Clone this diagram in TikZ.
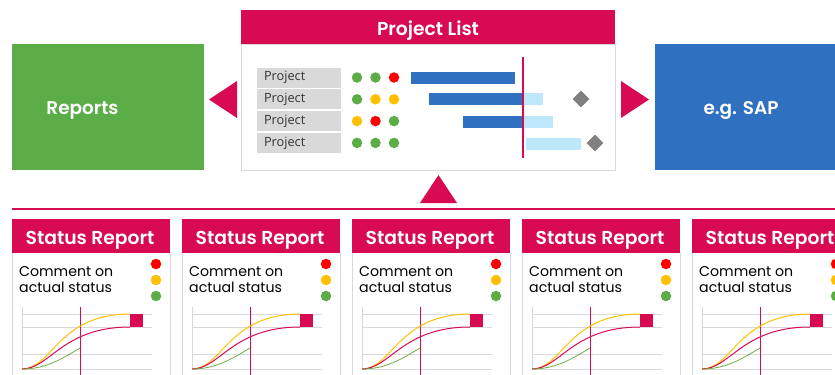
\documentclass[tikz,border=0pt]{standalone}
\usepackage{fontspec}
\setmainfont{Poppins}[BoldFont=* SemiBold]
\newfontfamily\lblfont{Open Sans}
\usetikzlibrary{shapes.geometric}
\definecolor{crim}{HTML}{D70A52}
\definecolor{repgreen}{HTML}{5BAD47}
\definecolor{dgreen}{HTML}{5BAD47}
\definecolor{sapblue}{HTML}{3070C0}
\definecolor{lblue}{HTML}{BDE7FB}
\definecolor{dyel}{HTML}{FFC000}
\definecolor{dred}{HTML}{FF0000}
\definecolor{diagray}{HTML}{808080}
\definecolor{boxgray}{HTML}{D9D9D9}
\definecolor{gridgray}{HTML}{D9D9D9}
\definecolor{txtgray}{HTML}{333333}
\definecolor{cgreen}{HTML}{70AD47}
\tikzset{
  hdr/.style={fill=crim, text=white, inner sep=0pt},
  hdrtxt/.style={text=white, inner sep=0pt, anchor=base, font=\bfseries\fontsize{18.8}{20}\selectfont},
  frame/.style={draw=gridgray, line width=1bp, inner sep=0pt},
  lbl/.style={fill=boxgray, text=txtgray, inner xsep=7bp, inner ysep=0pt, text width=70bp, align=left, minimum height=20bp, font=\lblfont\fontsize{12.8}{14}\selectfont},
  dot/.style={circle, inner sep=0pt, minimum size=10.5bp},
  bigbox/.style={inner sep=0pt, minimum width=192bp, minimum height=126bp, anchor=north west},
  bigtxt/.style={text=white, inner sep=0pt, anchor=base, font=\bfseries\fontsize{18.5}{20}\selectfont},
  arrowtri/.style={fill=crim},
  bar/.style={inner sep=0pt, minimum height=12bp, anchor=west},
  dia/.style={diamond, fill=diagray, inner sep=0pt, minimum width=17bp, minimum height=17bp},
  grid line/.style={draw=gridgray, line width=1bp},
  cmt/.style={text=black, anchor=base west, inner sep=0pt, font=\fontsize{14.2}{16}\selectfont},
}
\begin{document}
\begin{tikzpicture}[x=1bp,y=-1bp]
\useasboundingbox (0,0) rectangle (835,374);
\clip (0,0) rectangle (835,374);

% ---------- Project list ----------
\node[frame, minimum width=374bp, minimum height=126bp, anchor=north west] (plb) at (241,44) {};
\node[hdr, minimum width=374bp, minimum height=34bp, anchor=north west] (plh) at (241,10) {};
\node[hdrtxt] (plt) at (428,35) {Project List};

\foreach \i/\y in {1/77.5,2/99.3,3/121.1,4/142.9}{
  \node[lbl] (p\i) at (299,\y) {Project};
}
% status dots
\foreach \i/\y/\ca/\cb/\cc in {1/77.5/dgreen/dgreen/dred, 2/99.3/dgreen/dyel/dyel, 3/121.1/dyel/dred/dgreen, 4/142.9/dgreen/dgreen/dgreen}{
  \node[dot, fill=\ca] (d\i a) at (357,\y) {};
  \node[dot, fill=\cb] (d\i b) at (375.5,\y) {};
  \node[dot, fill=\cc] (d\i c) at (394,\y) {};
}
% bars
\node[bar, fill=sapblue, minimum width=104bp] (b1) at (411,78) {};
\node[bar, fill=lblue, minimum width=20bp] (b2l) at (523,99) {};
\node[bar, fill=sapblue, minimum width=94bp] (b2) at (429,99) {};
\node[bar, fill=lblue, minimum width=30bp] (b3l) at (523,122) {};
\node[bar, fill=sapblue, minimum width=60bp] (b3) at (463,122) {};
\node[bar, fill=lblue, minimum width=55bp] (b4l) at (526,144) {};
\coordinate (nowtop) at (522.7,57);
\coordinate (nowbot) at (522.7,158);
\draw[crim, line width=2bp] (nowtop) -- (nowbot);
\node[dia] (m2) at (581,99) {};
\node[dia] (m4) at (595,143) {};

% ---------- Reports / SAP ----------
\node[bigbox, fill=repgreen] (rep) at (12,44) {};
\node[bigtxt] (rept) at (82.5,114) {Reports};
\node[bigbox, fill=sapblue, minimum width=200bp] (sap) at (655,44) {};
\node[bigtxt] (sapt) at (741,114) {e.g. SAP};

% triangles
\fill[arrowtri] (209,99.5) -- (237,81) -- (237,118) -- cycle;
\fill[arrowtri] (649,99.5) -- (621,81) -- (621,118) -- cycle;
\fill[arrowtri] (438.5,175) -- (420,203) -- (457,203) -- cycle;

% separator line
\coordinate (sepl) at (12,209);
\coordinate (sepr) at (840,209);
\draw[crim, line width=2bp] (sepl) -- (sepr);

% ---------- Status report cards ----------
\foreach \k in {0,...,4}{
  \pgfmathsetmacro{\xo}{12+170*\k}
  \begin{scope}[shift={(\xo,0)}]
    \draw[frame] (0,253) -- (0,380) (158,253) -- (158,380);
    \node[hdr, minimum width=158bp, minimum height=34bp, anchor=north west] (sh\k) at (0,219) {};
    \node[hdrtxt] (st\k) at (78,244) {Status Report};
    \node[cmt] (ca\k) at (7,276) {Comment on};
    \node[cmt] (cb\k) at (7,292) {actual status};
    \node[dot, fill=dred] (r\k) at (144,264) {};
    \node[dot, fill=dyel] (y\k) at (144,280) {};
    \node[dot, fill=dgreen] (g\k) at (144,296) {};
    % chart
    \draw[grid line] (10,314) -- (140,314) (10,327) -- (140,327) (10,354) -- (140,354) (10,369.5) -- (140,369.5);
    \draw[grid line] (10,307) -- (10,370);
    \draw[crim, line width=1bp] (68,307) -- (68,376);
    \draw[dyel, line width=1bp] (10,369) .. controls (40,369) and (46,314) .. (118,314);
    \draw[crim, line width=1bp] (10,369) .. controls (38,369) and (50,327) .. (118,327);
    \draw[cgreen, line width=0.8bp] (10,369) .. controls (33,369) and (48,360) .. (68,348);
    \node[fill=crim, inner sep=0pt, minimum size=13bp, anchor=north west] (sq\k) at (118,314) {};
  \end{scope}
}
\end{tikzpicture}
\end{document}
